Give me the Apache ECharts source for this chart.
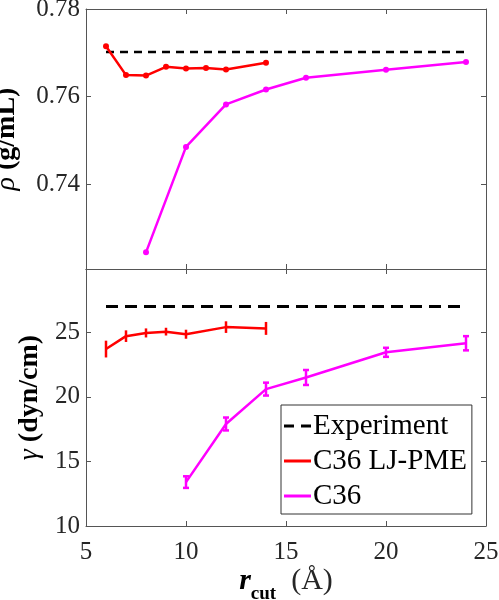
<!DOCTYPE html>
<html><head><meta charset="utf-8">
<script src="https://cdn.jsdelivr.net/npm/echarts@6/dist/echarts.min.js"></script>
<style>html,body{margin:0;padding:0;background:#fff}#c{width:499px;height:600px}</style>
</head><body><div id="c"></div>
<script>
// ---- data ----
const xTicks = [5, 10, 15, 20, 25];
const rhoTicks = [0.74, 0.76, 0.78];
const gammaTicks = [10, 15, 20, 25];

const expX = [6, 24];
const rhoExp = 0.7702;
const gammaExp = 27.0;

const rhoRedX = [6, 7, 8, 9, 10, 11, 12, 14];
const rhoRed = [0.7715, 0.7649, 0.7648, 0.7668, 0.7664, 0.7665, 0.7662, 0.7677];
const rhoMagX = [8, 10, 12, 14, 16, 20, 24];
const rhoMag = [0.7244, 0.7485, 0.7582, 0.7616, 0.7643, 0.7661, 0.7679];

const gamRedX = [6, 7, 8, 9, 10, 12, 14];
const gamRed = [23.7, 24.7, 24.95, 25.05, 24.85, 25.4, 25.3];
const gamRedErr = [0.65, 0.45, 0.35, 0.3, 0.35, 0.45, 0.5];
const gamMagX = [10, 12, 14, 16, 20, 24];
const gamMag = [13.4, 17.9, 20.6, 21.5, 23.45, 24.15];
const gamMagErr = [0.45, 0.5, 0.5, 0.58, 0.35, 0.55];

// ---- helpers ----
const FONT = '"Liberation Serif", "Times New Roman", serif';
const AX = '#555';
const RED = '#ff0000', MAG = '#ff00ff';
const pair = (xs, ys) => xs.map((x, i) => [x, ys[i]]);
const errData = (xs, ys, es) => xs.map((x, i) => [x, ys[i] - es[i], ys[i] + es[i]]);

function errSeries(name, data, color, capW) {
  return {
    name: name, type: 'custom', xAxisIndex: 2, yAxisIndex: 2, z: 3,
    data: data, silent: true,
    renderItem: function (params, api) {
      const x = api.value(0);
      const p1 = api.coord([x, api.value(1)]);
      const p2 = api.coord([x, api.value(2)]);
      const st = { stroke: color, lineWidth: 2.5 };
      const ch = [{ type: 'line', shape: { x1: p1[0], y1: p1[1], x2: p2[0], y2: p2[1] }, style: st }];
      if (capW > 0) {
        ch.push({ type: 'line', shape: { x1: p1[0] - capW, y1: p1[1], x2: p1[0] + capW, y2: p1[1] }, style: st });
        ch.push({ type: 'line', shape: { x1: p2[0] - capW, y1: p2[1], x2: p2[0] + capW, y2: p2[1] }, style: st });
      }
      return { type: 'group', children: ch };
    }
  };
}

function xAx(gi, pos, labels, extra) {
  return Object.assign({
    type: 'value', gridIndex: gi, position: pos, min: 5, max: 25, interval: 5,
    axisLine: { show: true, onZero: false, lineStyle: { color: AX, width: 1 } },
    axisTick: { show: true, inside: true, length: 5, lineStyle: { color: AX } },
    axisLabel: { show: labels, color: '#262626', fontFamily: FONT, fontSize: 25, margin: 14 },
    splitLine: { show: false }
  }, extra || {});
}
function yAx(gi, pos, min, max, ticks, labels, extra) {
  return Object.assign({
    type: 'value', gridIndex: gi, position: pos, min: min, max: max,
    axisLine: { show: true, onZero: false, lineStyle: { color: AX, width: 1 } },
    axisTick: { show: true, inside: true, length: 5, lineStyle: { color: AX }, customValues: ticks },
    axisLabel: { show: labels, color: '#262626', fontFamily: FONT, fontSize: 25, margin: 6, customValues: ticks,
                 formatter: v => (max < 1 ? v.toFixed(2) : String(v)) },
    splitLine: { show: false }
  }, extra || {});
}

const legendNames = ['Experiment', 'C36 LJ-PME', 'C36'];
const legendIcons = [
  'path://M0,0H10V3H0Z M17,0H27V3H17Z',
  'path://M0,0H27V3H0Z',
  'path://M0,0H27V3H0Z'
];

const chart = echarts.init(document.getElementById('c'), null, { renderer: 'canvas' });
chart.setOption({
  animation: false,
  backgroundColor: '#fff',
  grid: [
    { left: 86, top: 9, width: 400, height: 260, containLabel: false, outerBoundsMode: 'none' },
    { left: 86, top: 269, width: 400, height: 257, containLabel: false, outerBoundsMode: 'none' }
  ],
  xAxis: [
    xAx(0, 'bottom', false),
    xAx(0, 'top', false),
    xAx(1, 'bottom', true, {
      name: '{r|r}{s|cut}{n|  (Å)}', nameLocation: 'middle', nameGap: 40,
      nameTextStyle: {
        rich: {
          r: { fontFamily: FONT, fontSize: 30, fontStyle: 'italic', fontWeight: 'bold', color: '#000', verticalAlign: 'bottom', lineHeight: 30 },
          s: { fontFamily: FONT, fontSize: 19, fontWeight: 'bold', color: '#000', verticalAlign: 'bottom', lineHeight: 30, padding: [0, 0, -8, 0] },
          n: { fontFamily: FONT, fontSize: 30, color: '#262626', verticalAlign: 'bottom', lineHeight: 30 }
        }
      }
    }),
    xAx(1, 'top', false)
  ],
  yAxis: [
    yAx(0, 'left', 0.7206, 0.78, rhoTicks, true, {
      name: '{a|ρ}{b| (g/mL)}', nameLocation: 'middle', nameRotate: 90, nameGap: 65,
      nameTextStyle: {
        rich: {
          a: { fontFamily: FONT, fontSize: 28, fontStyle: 'italic', color: '#000' },
          b: { fontFamily: FONT, fontSize: 28, fontWeight: 'bold', color: '#000' }
        }
      }
    }),
    yAx(0, 'right', 0.7206, 0.78, rhoTicks, false),
    yAx(1, 'left', 10, 29.9, gammaTicks, true, {
      name: '{a|γ}{b| (dyn/cm)}', nameLocation: 'middle', nameRotate: 90, nameGap: 41,
      nameTextStyle: {
        rich: {
          a: { fontFamily: FONT, fontSize: 28, fontStyle: 'italic', color: '#000' },
          b: { fontFamily: FONT, fontSize: 28, fontWeight: 'bold', color: '#000' }
        }
      }
    }),
    yAx(1, 'right', 10, 29.9, gammaTicks, false)
  ],
  legend: {
    orient: 'vertical', left: 281, top: 405,
    data: legendNames.map((n, i) => ({ name: n, icon: legendIcons[i] })),
    backgroundColor: '#fff', borderColor: '#333', borderWidth: 1,
    padding: [6, 5, 3, 3], itemGap: 5, itemWidth: 27, itemHeight: 3,
    textStyle: { fontFamily: FONT, fontSize: 29, color: '#000', padding: [0, 0, 0, -3], lineHeight: 30 },
    selectedMode: false, z: 10
  },
  series: [
    { name: 'rhoExp', type: 'line', xAxisIndex: 0, yAxisIndex: 0, data: expX.map(x => [x, rhoExp]),
      symbol: 'none', lineStyle: { color: '#000', width: 2.5, type: [8, 6] }, z: 2 },
    { name: 'rhoRed', type: 'line', xAxisIndex: 0, yAxisIndex: 0, data: pair(rhoRedX, rhoRed),
      symbol: 'circle', symbolSize: 6, itemStyle: { color: RED }, lineStyle: { color: RED, width: 2.5 }, z: 3 },
    { name: 'rhoMag', type: 'line', xAxisIndex: 0, yAxisIndex: 0, data: pair(rhoMagX, rhoMag),
      symbol: 'circle', symbolSize: 6, itemStyle: { color: MAG }, lineStyle: { color: MAG, width: 2.5 }, z: 3 },

    { name: 'Experiment', type: 'line', xAxisIndex: 2, yAxisIndex: 2, data: expX.map(x => [x, gammaExp]),
      symbol: 'none', itemStyle: { color: '#000' }, lineStyle: { color: '#000', width: 3, type: [12, 7] }, z: 2 },
    { name: 'C36 LJ-PME', type: 'line', xAxisIndex: 2, yAxisIndex: 2, data: pair(gamRedX, gamRed),
      symbol: 'none', itemStyle: { color: RED }, lineStyle: { color: RED, width: 2.5 }, z: 3 },
    { name: 'C36', type: 'line', xAxisIndex: 2, yAxisIndex: 2, data: pair(gamMagX, gamMag),
      symbol: 'none', itemStyle: { color: MAG }, lineStyle: { color: MAG, width: 2.5 }, z: 3 },
    errSeries('errRed', errData(gamRedX, gamRed, gamRedErr), RED, 0),
    errSeries('errMag', errData(gamMagX, gamMag, gamMagErr), MAG, 3)
  ]
});
</script>
</body></html>
